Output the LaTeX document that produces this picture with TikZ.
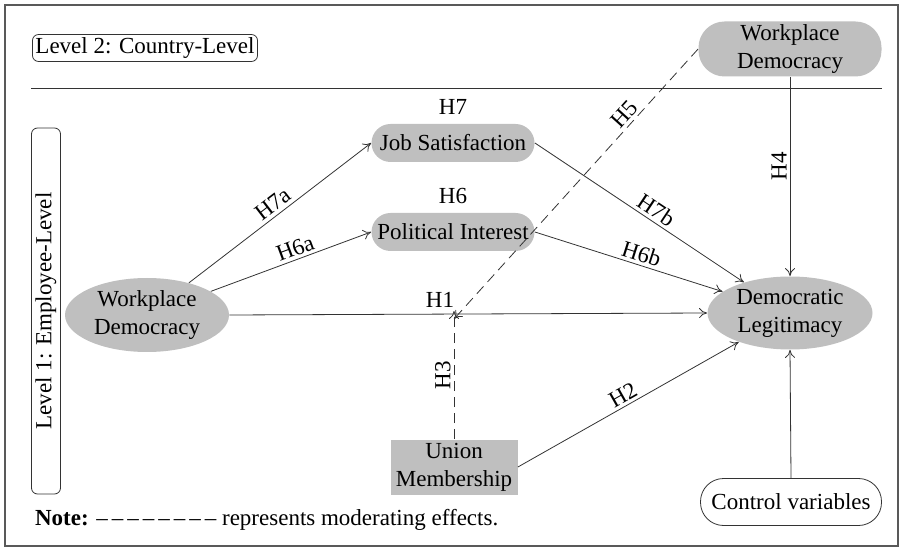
\documentclass[tikz,border=0pt]{standalone}
\usepackage{fontspec}
\setmainfont{Liberation Serif}
\usepackage{tikz}
\usetikzlibrary{arrows.meta,positioning,shapes.geometric}

\definecolor{boxgray}{HTML}{BFBFBF}
\definecolor{framegray}{HTML}{595959}
\definecolor{linegray}{HTML}{333333}

\begin{document}
\begin{tikzpicture}[x=0.5pt,y=-0.5pt,
    font=\fontsize{11.5}{14}\selectfont,
    var/.style={ellipse,fill=boxgray,align=center,inner sep=0pt},
    pill/.style={rectangle,fill=boxgray,align=center,inner sep=0pt},
    levelbox/.style={rectangle,draw=linegray,rounded corners=3pt,inner sep=1.5pt},
    path/.style={->,>={To[length=4pt,width=5pt]},draw=linegray,thin},
    mod/.style={path,dashed,dash pattern=on 5pt off 3pt},
    hlab/.style={midway,above,sloped,inner sep=1.5pt}]
    \useasboundingbox (0,0) rectangle (903,549);
    % Frame
    \draw[framegray,line width=1pt] (5,5) rectangle (898,546);

    % Level 2
    \node[levelbox] (lvltwo) at (145,48) {Level 2: Country-Level};
    \draw[linegray] (31,88) -- (882,88);
    \node[pill,rounded corners=13pt,minimum width=91.5pt,minimum height=27.5pt] (wdc) at (790,49) {Workplace\\Democracy};

    % Level 1
    \node[levelbox,rotate=90,minimum width=183pt,minimum height=14.5pt] (lvlone) at (46,311) {Level 1: Employee-Level};
    \node[var,minimum width=82pt,minimum height=37pt] (wd) at (147,315) {Workplace\\Democracy};
    \node[pill,rounded corners=9.5pt,minimum width=81.5pt,minimum height=19pt] (js) at (453,143) {Job Satisfaction};
    \node[pill,rounded corners=9.5pt,minimum width=81.5pt,minimum height=19pt] (pi) at (453,232) {Political Interest};
    \node[above=1pt of js] (hseven) {H7};
    \node[above=1pt of pi] (hsix) {H6};
    \node[var,minimum width=82.5pt,minimum height=36.5pt] (dl) at (790,313) {Democratic\\Legitimacy};
    \node[pill,minimum width=63.5pt,minimum height=27.5pt] (um) at (454,467) {Union\\Membership};
    \node[rectangle,draw=linegray,rounded corners=11.5pt,minimum width=90.5pt,minimum height=23.5pt,inner sep=0pt] (cv) at (791,502) {Control variables};
    \coordinate (modpt) at (454,315);

    % Paths
    \draw[path] (wd) -- node[hlab] {H7a} (js.west);
    \draw[path] (wd) -- node[hlab,pos=0.55] {H6a} (pi.west);
    \draw[path] (wd.east) -- (dl.west);
    \node (hone) at (440,300) {H1};
    \draw[path] (js.east) -- node[hlab,pos=0.55] {H7b} (dl);
    \draw[path] (pi.east) -- node[hlab,pos=0.55] {H6b} (dl);
    \draw[path] (um.east) -- node[hlab,pos=0.5] {H2} (dl);
    \draw[path] (wdc.south) -- node[midway,left,rotate=90,anchor=south,inner sep=1.5pt,pos=0.45] {H4} (dl.north);
    \draw[path] (cv.north) -- (dl.south);

    % Moderating effects
    \draw[mod] (wdc.west) -- node[hlab,pos=0.27] {H5} ([yshift=-2pt]modpt);
    \draw[mod] (um.north) -- node[midway,rotate=90,anchor=south,inner sep=1.5pt] {H3} ([yshift=2pt]modpt);

    % Note
    \node[anchor=west] (note) at (28,520) {\textbf{Note:} \textendash\kern2pt\textendash\kern2pt\textendash\kern2pt\textendash\kern2pt\textendash\kern2pt\textendash\kern2pt\textendash\kern2pt\textendash{} represents moderating effects.};
\end{tikzpicture}
\end{document}
